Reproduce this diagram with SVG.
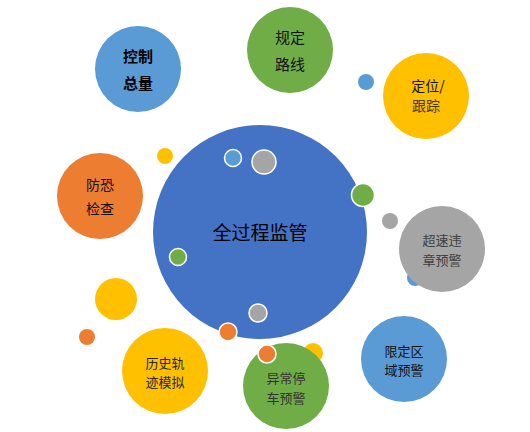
<svg xmlns="http://www.w3.org/2000/svg" width="530" height="432" viewBox="0 0 530 432">
<style>
text{font-family:"Noto Sans CJK SC","Microsoft YaHei",sans-serif;text-anchor:middle;dominant-baseline:central}
.t{font-size:14px;fill:#111}
.s{font-size:13px;fill:#111}
.b{font-size:15px;font-weight:bold;fill:#000}
.dot{stroke:#fff;stroke-width:1.5}
.blue{fill:#5B9BD5}.green{fill:#70AD47}.yellow{fill:#FFC000}.orange{fill:#ED7D31}.gray{fill:#A5A5A5}
</style>
<rect width="530" height="432" fill="#fff"/>
<g id="decor-back">
<circle class="blue" cx="415" cy="278" r="8"/>
<circle class="yellow" cx="313" cy="353" r="10"/>
</g>
<g id="node-center">
<circle cx="260" cy="232" r="107" fill="#4472C4"/>
<text x="260" y="231" style="font-size:19px;fill:#000">全过程监管</text>
</g>
<g id="node-kongzhi">
<circle class="blue" cx="138" cy="69" r="43"/>
<text class="b" x="138" y="55">控制<tspan x="138" dy="27">总量</tspan></text>
</g>
<g id="node-guiding">
<circle class="green" cx="290" cy="50" r="43"/>
<text class="t" x="290" y="36" style="font-size:15px">规定<tspan x="290" dy="27">路线</tspan></text>
</g>
<g id="node-dingwei">
<circle class="yellow" cx="426" cy="96" r="43"/>
<text class="s" x="428" y="85" style="font-size:14px">定位/<tspan x="426" dy="20" style="fill:#4a3800">跟踪</tspan></text>
</g>
<g id="node-fangkong">
<circle class="orange" cx="100" cy="196" r="43"/>
<text class="t" x="100" y="184">防恐<tspan x="100" dy="24">检查</tspan></text>
</g>
<g id="node-chaosu">
<circle class="gray" cx="442" cy="249" r="43"/>
<text class="s" x="442" y="239.5" style="fill:#404040">超速违<tspan x="442" dy="19">章预警</tspan></text>
</g>
<g id="node-xianding">
<circle class="blue" cx="404" cy="359" r="43"/>
<text class="s" x="404" y="350">限定区<tspan x="404" dy="19">域预警</tspan></text>
</g>
<g id="node-yichang">
<circle class="green" cx="286" cy="386" r="43"/>
<text class="s" x="286" y="377.5" style="fill:#333">异常停<tspan x="286" dy="19">车预警</tspan></text>
</g>
<g id="node-lishi">
<circle class="yellow" cx="165" cy="371" r="43"/>
<text class="s" x="165" y="362" style="fill:#262626">历史轨<tspan x="165" dy="19">迹模拟</tspan></text>
</g>
<g id="decor">
<circle class="blue" cx="366" cy="82" r="8"/>
<circle class="yellow" cx="165" cy="156" r="8"/>
<circle class="blue dot" cx="233" cy="158" r="8.5"/>
<circle class="gray dot" cx="264" cy="162" r="12"/>
<circle class="green dot" cx="363" cy="195" r="11.5"/>
<circle class="gray" cx="390" cy="221" r="8"/>
<circle class="green dot" cx="178" cy="257" r="8.5"/>
<circle class="gray dot" cx="258" cy="313" r="9"/>
<circle class="orange dot" cx="228" cy="332" r="9"/>
<circle class="orange dot" cx="267" cy="354" r="9"/>
<circle class="yellow" cx="116" cy="299" r="21"/>
<circle class="orange" cx="87" cy="337" r="8"/>
</g>
<g id="connectors"/>
</svg>
